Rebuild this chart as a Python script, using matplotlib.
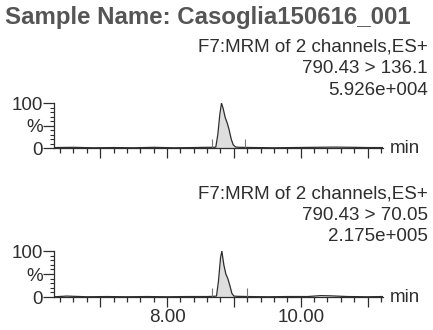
import matplotlib
matplotlib.use("Agg")
import matplotlib.pyplot as plt
from matplotlib.ticker import FixedLocator

plt.rcParams['font.family'] = ['Liberation Sans', 'DejaVu Sans']

# ---- data (time in min, intensity in %) ----
title = "Sample Name: Casoglia150616_001"
header_a = ["F7:MRM of 2 channels,ES+", "790.43 > 136.1", "5.926e+004"]
header_b = ["F7:MRM of 2 channels,ES+", "790.43 > 70.05", "2.175e+005"]

time_a = [6.32, 6.6, 6.9, 7.2, 7.5, 7.8, 8.1, 8.4, 8.6, 8.70, 8.73, 8.76, 8.79,
          8.815, 8.84, 8.87, 8.90, 8.93, 8.96, 8.99, 9.03, 9.1, 9.3, 9.6, 9.9,
          10.2, 10.5, 10.8, 11.0, 11.22]
int_a = [1, 1.5, 0.5, 1, 0.5, 1.5, 0.5, 1, 1.5, 1.5, 2, 30, 75,
         100, 88, 68, 56, 40, 20, 7, 2, 1.5, 1, 0.5, 1,
         1.5, 2, 1.5, 1, 1]

time_b = [6.32, 6.5, 6.8, 7.1, 7.4, 7.7, 8.0, 8.3, 8.6, 8.70, 8.74, 8.77, 8.80,
          8.82, 8.85, 8.88, 8.91, 8.94, 8.97, 9.00, 9.05, 9.2, 9.5, 9.8, 10.1,
          10.3, 10.45, 10.7, 11.0, 11.22]
int_b = [0.5, 2, 0.5, 1, 0.5, 1, 0.5, 1, 1, 1.5, 2, 35, 85,
         100, 70, 50, 40, 25, 8, 2, 1.5, 1, 0.5, 1, 1,
         3, 2.5, 1, 0.5, 1]

peak_a = (8.73, 9.03)
peak_b = (8.74, 9.00)
marks_a = [8.675, 9.17]
marks_b = [8.675, 9.20]
mark_height = 20

x_major = [7, 8, 9, 10, 11]
x_labels = ["", "8.00", "", "10.00", ""]
x_minor = [6.4, 6.6, 6.8, 7.2, 7.4, 7.6, 7.8, 8.2, 8.4, 8.6, 8.8, 9.2, 9.4,
           9.6, 9.8, 10.2, 10.4, 10.6, 10.8, 11.2]

ink = '#2e2e2e'
fs = 13.5

fig = plt.figure(figsize=(4.33, 3.30), dpi=100)
fig.text(0.012, 0.946, title, fontsize=17.3, fontweight='bold', color='#555555',
         ha='left', va='center')


def draw_panel(rect, t, y, peak, marks, show_labels):
    ax = fig.add_axes(rect)
    ax.plot(t, y, color=ink, lw=0.9)
    ax.fill_between(t, 0, y, where=[peak[0] <= v <= peak[1] for v in t],
                    color='#dedede', lw=0)
    ax.vlines(marks, 0, mark_height, color='#777777', lw=0.8)
    ax.set_xlim(6.31, 11.23)
    ax.set_ylim(0, 100)
    for s in ['top', 'right']:
        ax.spines[s].set_visible(False)
    for s in ['left', 'bottom']:
        ax.spines[s].set_color(ink)
        ax.spines[s].set_linewidth(0.9)
    ax.xaxis.set_major_locator(FixedLocator(x_major))
    ax.xaxis.set_minor_locator(FixedLocator(x_minor))
    ax.set_xticklabels(x_labels if show_labels else [""] * len(x_major))
    ax.yaxis.set_major_locator(FixedLocator([0, 50, 100]))
    ax.yaxis.set_minor_locator(FixedLocator([10, 20, 30, 40, 60, 70, 80, 90]))
    ax.set_yticklabels(["0", "%", "100"])
    ax.tick_params(axis='x', which='major', length=7, width=0.9, color=ink,
                   labelsize=fs, labelcolor=ink, pad=2)
    ax.tick_params(axis='x', which='minor', length=3.5, width=0.9, color=ink)
    ax.tick_params(axis='y', which='major', length=8, width=0.9, color=ink,
                   labelsize=fs, labelcolor=ink, pad=0)
    ax.tick_params(axis='y', which='minor', length=3, width=0.8, color=ink)
    ax.text(1.02, 0, "min", transform=ax.transAxes, fontsize=fs, color=ink,
            ha='left', va='center')
    return ax


draw_panel([0.1247, 0.5515, 0.7598, 0.136], time_a, int_a, peak_a, marks_a, False)
draw_panel([0.1247, 0.100, 0.7598, 0.139], time_b, int_b, peak_b, marks_b, True)

for lines, ys in [(header_a, [0.858, 0.792, 0.726]),
                  (header_b, [0.412, 0.346, 0.282])]:
    for txt, yy in zip(lines, ys):
        fig.text(0.988, yy, txt, fontsize=fs, color=ink, ha='right', va='center')

fig.savefig("out.png", dpi=100, facecolor='white')
